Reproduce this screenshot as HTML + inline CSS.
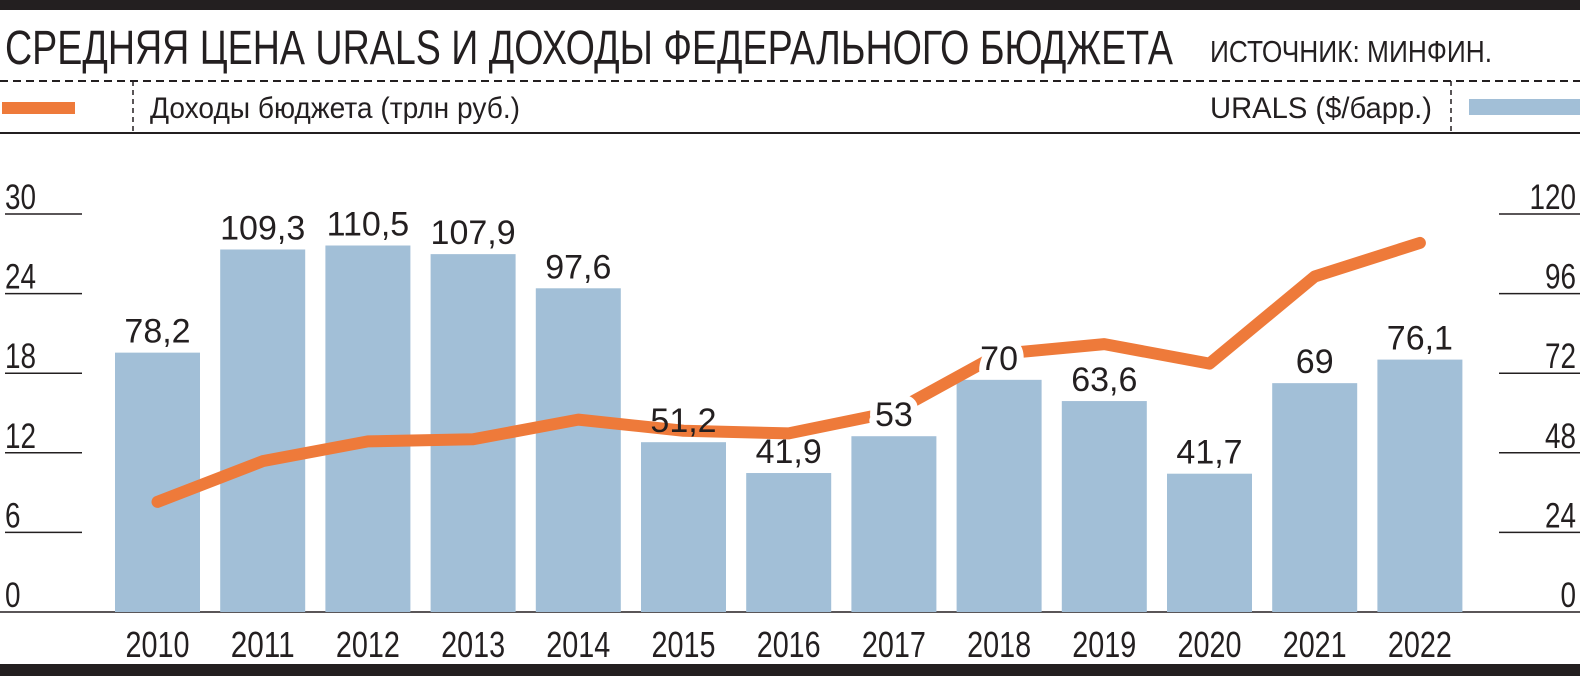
<!DOCTYPE html>
<html><head><meta charset="utf-8"><style>
html,body{margin:0;padding:0;background:#fff;}
svg{display:block;}
.n{font-family:"Liberation Sans Narrow","Liberation Sans","DejaVu Sans Condensed",sans-serif;fill:#231f20;}
.v{font-family:"Liberation Sans",sans-serif;fill:#231f20;font-size:34px;}
</style></head><body>
<svg id="chart" width="1580" height="676" viewBox="0 0 1580 676" xmlns="http://www.w3.org/2000/svg">
<rect x="0" y="0" width="1580" height="10" fill="#231f20"/>
<text class="n" x="5" y="64" font-size="48" textLength="1168" lengthAdjust="spacingAndGlyphs">СРЕДНЯЯ ЦЕНА URALS И ДОХОДЫ ФЕДЕРАЛЬНОГО БЮДЖЕТА</text>
<text class="n" x="1210" y="62" font-size="31" textLength="282" lengthAdjust="spacingAndGlyphs">ИСТОЧНИК: МИНФИН.</text>
<line x1="0" y1="81" x2="1580" y2="81" stroke="#231f20" stroke-width="2" stroke-dasharray="8,5"/>
<line x1="0" y1="133" x2="1580" y2="133" stroke="#231f20" stroke-width="2"/>
<g>
<rect x="2" y="102" width="73" height="12" fill="#ee7a3a"/>
<line x1="133" y1="81" x2="133" y2="133" stroke="#231f20" stroke-width="1.5" stroke-dasharray="5,4"/>
<text class="n" x="150" y="118" font-size="30" textLength="370" lengthAdjust="spacingAndGlyphs">Доходы бюджета (трлн руб.)</text>
</g>
<g>
<text class="n" x="1432" y="118" font-size="30" text-anchor="end" textLength="222" lengthAdjust="spacingAndGlyphs">URALS ($/барр.)</text>
<line x1="1451" y1="81" x2="1451" y2="133" stroke="#231f20" stroke-width="1.5" stroke-dasharray="5,4"/>
<rect x="1469" y="99" width="111" height="16" fill="#a2bfd7"/>
</g>
<g id="axes"></g>
<g id="bars"></g>
<g id="line"></g>
<g id="labels"></g>
<rect x="0" y="664" width="1580" height="12" fill="#231f20"/>
</svg>
<script>
const years = ["2010","2011","2012","2013","2014","2015","2016","2017","2018","2019","2020","2021","2022"];
const uralsPrice = [78.2,109.3,110.5,107.9,97.6,51.2,41.9,53,70,63.6,41.7,69,76.1];
const uralsLabels = ["78,2","109,3","110,5","107,9","97,6","51,2","41,9","53","70","63,6","41,7","69","76,1"];
const budgetRevenue = [8.3,11.37,12.86,13.02,14.5,13.66,13.46,15.09,19.45,20.19,18.72,25.29,27.82];
const leftTicks = [0,6,12,18,24,30];
const rightTicks = [0,24,48,72,96,120];

const NS="http://www.w3.org/2000/svg";
const baseY=612, topY=214;
const yL=v=>baseY-(v/30)*(baseY-topY);
const yR=v=>baseY-(v/120)*(baseY-topY);
const barLeft0=115, step=105.2, barW=85;
const xC=i=>barLeft0+i*step+barW/2;
function mk(tag,attrs,parent){const e=document.createElementNS(NS,tag);for(const k in attrs)e.setAttribute(k,attrs[k]);parent.appendChild(e);return e;}
const axes=document.getElementById('axes'),bars=document.getElementById('bars'),line=document.getElementById('line'),labels=document.getElementById('labels');

leftTicks.forEach(t=>{
  if(t>0){const l=mk('line',{x1:5,x2:82,y1:yL(t),y2:yL(t),stroke:'#231f20','stroke-width':1.5},axes);
  
  }
  const s=String(t);
  const tx=mk('text',{x:5,y:yL(t)-5,class:'n','font-size':35,textLength:s.length*15.5,lengthAdjust:'spacingAndGlyphs'},axes);
  
  
  tx.textContent=s;
});
rightTicks.forEach(t=>{
  if(t>0){const l=mk('line',{x1:1499,x2:1580,y1:yR(t),y2:yR(t),stroke:'#231f20','stroke-width':1.5},axes);
  
  }
  const s=String(t);
  const tx=mk('text',{x:1576,y:yR(t)-5,class:'n','font-size':35,'text-anchor':'end',textLength:s.length*15.5,lengthAdjust:'spacingAndGlyphs'},axes);
  
  
  tx.textContent=s;
});
const bl=mk('line',{x1:0,x2:1580,y1:baseY,y2:baseY,stroke:'#231f20','stroke-width':1.5},axes);



years.forEach((y,i)=>{
  const top=yR(uralsPrice[i]);
  const r=mk('rect',{x:barLeft0+i*step,y:top,width:barW,height:baseY-top,fill:'#a2bfd7'},bars);
  
  
  const xl=mk('text',{x:xC(i),y:657,class:'n','font-size':36,'text-anchor':'middle',textLength:64,lengthAdjust:'spacingAndGlyphs'},labels);
  
  
  xl.textContent=y;
});

const pts=budgetRevenue.map((v,i)=>xC(i)+','+yL(v)).join(' ');
const pl=mk('polyline',{points:pts,fill:'none',stroke:'#ee7a3a','stroke-width':12,'stroke-linejoin':'round','stroke-linecap':'round'},line);



years.forEach((y,i)=>{
  const top=yR(uralsPrice[i]);
  const knock=(i===7||i===8);
  const t=mk('text',{x:xC(i),y:top-10,class:'v','text-anchor':'middle'},labels);
  if(knock){t.setAttribute('stroke','#fff');t.setAttribute('stroke-width','14');t.setAttribute('paint-order','stroke');t.setAttribute('stroke-linejoin','round');}
  
  
  t.textContent=uralsLabels[i];
});
</script>
</body></html>
